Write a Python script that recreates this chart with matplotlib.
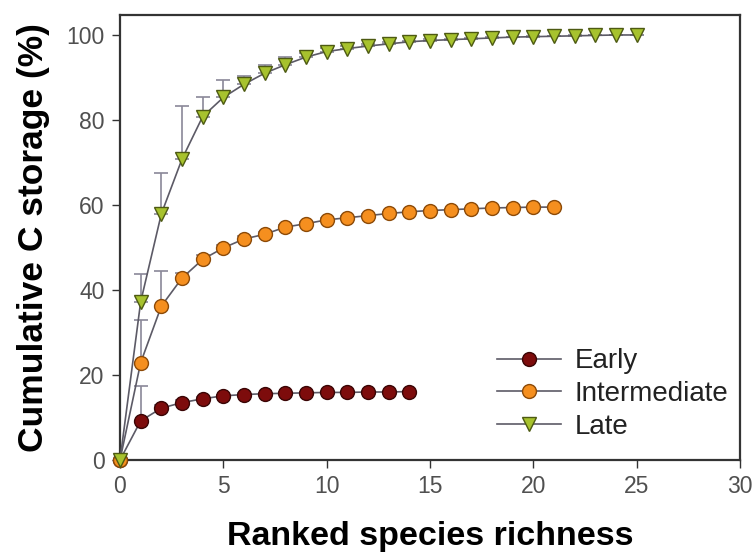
import matplotlib
matplotlib.use("Agg")
import matplotlib.pyplot as plt
import numpy as np

plt.rcParams['font.family'] = ['Liberation Sans', 'DejaVu Sans']

# Data
early_x = list(range(0, 15))
early_y = [0, 9.2, 12.2, 13.5, 14.4, 15.1, 15.4, 15.6, 15.7, 15.8, 15.9, 15.9, 16.0, 16.0, 16.1]
early_err = [0, 8.3, 0.8, 0.5, 0.4, 0.3, 0.3, 0.2, 0.2, 0.2, 0.1, 0.1, 0.1, 0.1, 0.1]

inter_x = list(range(0, 22))
inter_y = [0, 22.9, 36.2, 42.8, 47.2, 49.9, 52.0, 53.1, 54.8, 55.6, 56.5, 57.0, 57.5, 58.0,
           58.4, 58.7, 58.9, 59.1, 59.3, 59.4, 59.5, 59.5]
inter_err = [0, 10.0, 8.3, 1.2, 1.0, 0.8, 0.7, 0.6, 0.5, 0.4, 0.4, 0.3, 0.3, 0.3,
             0.2, 0.2, 0.2, 0.2, 0.1, 0.1, 0.1, 0.1]

late_x = list(range(0, 26))
late_y = [0, 37.2, 57.9, 70.8, 80.8, 85.3, 88.4, 91.0, 93.0, 94.8, 96.1, 96.8, 97.4, 97.9,
          98.4, 98.7, 98.9, 99.1, 99.3, 99.5, 99.6, 99.7, 99.8, 99.9, 100.0, 100.0]
late_err = [0, 6.6, 9.7, 12.5, 4.5, 4.1, 1.9, 2.0, 1.8, 1.0, 0.8, 0.6, 0.5, 0.4,
            0.3, 0.3, 0.2, 0.2, 0.2, 0.1, 0.1, 0.1, 0.1, 0.1, 0.0, 0.0]

xticks = [0, 5, 10, 15, 20, 25, 30]
yticks = [0, 20, 40, 60, 80, 100]

fig = plt.figure(figsize=(7.52, 5.58), dpi=100)
ax = fig.add_axes([120/752, 1-460/558, 620/752, 445/558])

line_col = '#5c5a66'
err_col = '#8a8898'

series = [
    ("Early", early_x, early_y, early_err, 'o', '#7d0c0c', '#3a0505'),
    ("Intermediate", inter_x, inter_y, inter_err, 'o', '#f58f1f', '#8c4a08'),
    ("Late", late_x, late_y, late_err, 'v', '#a7c22e', '#4d5a12'),
]

for name, x, y, e, m, fc, ec in series:
    ax.errorbar(x, y, yerr=[np.zeros(len(e)), e], fmt='none', ecolor=err_col,
                elinewidth=1.2, capsize=5, capthick=1.2, zorder=2, clip_on=False)
for name, x, y, e, m, fc, ec in series:
    ax.plot(x, y, color=line_col, lw=1.2, marker=m, markersize=10 if m == 'o' else 10.5,
            markerfacecolor=fc, markeredgecolor=ec, markeredgewidth=1.0,
            label=name, zorder=3, clip_on=False)

ax.set_xlim(0, 30)
ax.set_ylim(0, 104.7)
ax.set_xticks(xticks)
ax.set_yticks(yticks)
ax.tick_params(direction='out', length=6, width=1, labelsize=16.5, colors='#333333', pad=5)
ax.tick_params(axis='both', labelcolor='#505050')
for s in ax.spines.values():
    s.set_linewidth(1.6)
    s.set_color('#333333')

ax.set_xlabel("Ranked species richness", fontsize=24.5, fontweight='bold', labelpad=16)
ax.set_ylabel("Cumulative C storage (%)", fontsize=25.5, fontweight='bold', labelpad=12)

leg = ax.legend(loc='upper left', bbox_to_anchor=(0.59, 0.276), frameon=False,
                fontsize=20, handlelength=2.3, handletextpad=0.5, labelspacing=0.24,
                borderaxespad=0)
for t in leg.get_texts():
    t.set_color('#222222')

fig.savefig("out.png", dpi=100)
